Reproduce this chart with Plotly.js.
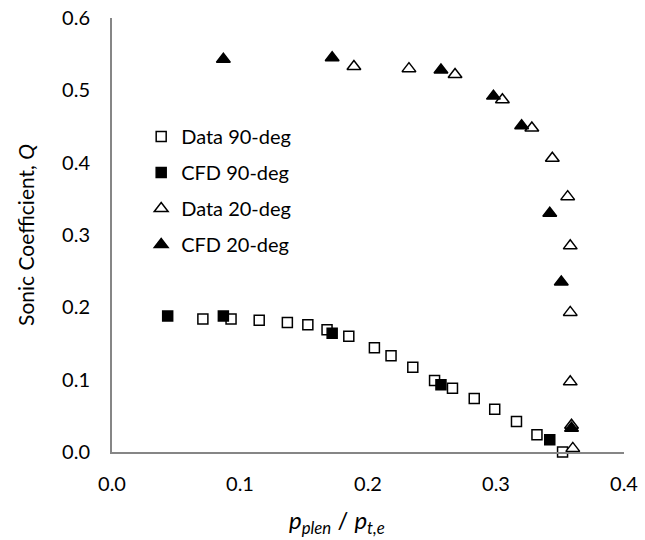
<!DOCTYPE html>
<html>
<head>
<meta charset="utf-8">
<script src="https://cdn.plot.ly/plotly-3.0.1.min.js"></script>
<style>html,body{margin:0;padding:0;background:#fff;}#chart{width:645px;height:540px;}</style>
</head>
<body>
<div id="chart"></div>
<script>
// Data 90-deg (open squares)
var data90X = [0.071, 0.093, 0.115, 0.137, 0.153, 0.168, 0.185, 0.205, 0.218, 0.235, 0.252, 0.266, 0.283, 0.299, 0.316, 0.332, 0.352];
var data90Y = [0.184, 0.184, 0.182, 0.179, 0.176, 0.169, 0.160, 0.144, 0.133, 0.117, 0.099, 0.088, 0.074, 0.059, 0.042, 0.024, 0.000];
// CFD 90-deg (filled squares)
var cfd90X = [0.0435, 0.087, 0.172, 0.257, 0.342];
var cfd90Y = [0.188, 0.188, 0.164, 0.093, 0.017];
// Data 20-deg (open triangles)
var data20X = [0.189, 0.232, 0.268, 0.305, 0.328, 0.344, 0.356, 0.358, 0.358, 0.358, 0.359, 0.360, 0.361];
var data20Y = [0.533, 0.530, 0.522, 0.487, 0.448, 0.406, 0.353, 0.285, 0.193, 0.097, 0.037, 0.005, -0.003];
// CFD 20-deg (filled triangles)
var cfd20X = [0.087, 0.172, 0.257, 0.298, 0.320, 0.342, 0.351, 0.359];
var cfd20Y = [0.543, 0.545, 0.528, 0.492, 0.451, 0.330, 0.235, 0.033];

var xTitle = '<i>p</i><sub><i>plen</i></sub> / <i>p</i><sub><i>t,e</i></sub>';
var yTitle = 'Sonic Coefficient, <i>Q</i>';

var FONT = "Lato, 'Open Sans', sans-serif";
function tr(x, y, name, sym, fill, size, grp) {
  return {
    x: x, y: y, name: name, type: 'scatter', mode: 'markers', cliponaxis: false,
    legendgroup: grp,
    marker: {symbol: sym, size: size, color: fill, line: {color: '#000', width: 1.5}}
  };
}
var traces = [
  tr(data90X, data90Y, 'Data 90-deg', 'square', '#ffffff', 10, 'a'),
  tr(cfd90X, cfd90Y, 'CFD 90-deg', 'square', '#000000', 10, 'b'),
  tr(data20X, data20Y, 'Data 20-deg', 'triangle-up', '#ffffff', 12, 'c'),
  tr(cfd20X, cfd20Y, 'CFD 20-deg', 'triangle-up', '#000000', 12, 'd')
];
var layout = {
  width: 645, height: 540,
  margin: {l: 112, r: 21, t: 18, b: 88},
  paper_bgcolor: '#fff', plot_bgcolor: '#fff',
  font: {family: FONT, size: 20, color: '#000'},
  showlegend: true,
  legend: {x: 0.057, y: 0.772, xanchor: 'left', yanchor: 'top', bgcolor: 'rgba(0,0,0,0)',
           font: {family: FONT, size: 20}, tracegroupgap: 7, traceorder: 'grouped', itemwidth: 30},
  xaxis: {
    range: [0, 0.4], dtick: 0.1, tickformat: '.1f', showgrid: false, zeroline: false,
    showline: true, linecolor: '#868686', linewidth: 2,
    ticks: 'outside', ticklen: 13, tickcolor: 'rgba(0,0,0,0)',
    tickfont: {family: FONT, size: 20}
  },
  yaxis: {
    range: [0, 0.6], dtick: 0.1, tickformat: '.1f', showgrid: false, zeroline: false,
    showline: true, linecolor: '#868686', linewidth: 2,
    ticks: 'outside', ticklen: 16, tickcolor: 'rgba(0,0,0,0)',
    tickfont: {family: FONT, size: 20},
    title: {text: yTitle, font: {family: FONT, size: 21}, standoff: 22}
  },
  annotations: [{
    text: xTitle, xref: 'paper', yref: 'paper', x: 0.44, y: -0.16,
    xanchor: 'center', yanchor: 'middle', showarrow: false,
    font: {family: FONT, size: 24}
  }]
};
Plotly.newPlot('chart', traces, layout, {displayModeBar: false, staticPlot: true});
</script>
</body>
</html>
